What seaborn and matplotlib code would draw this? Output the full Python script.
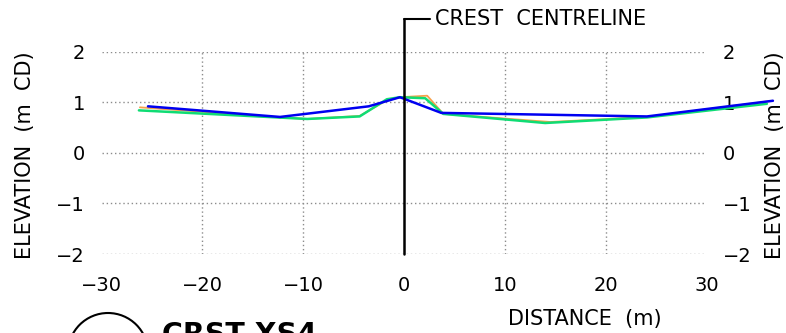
import seaborn as sns
import pandas as pd
import matplotlib
matplotlib.use("Agg")
import matplotlib.pyplot as plt
from matplotlib.patches import Ellipse

# survey profiles across the crest (distance in m, elevation in m CD)
orange_x = [-26.2, -12.3, -9.6, -4.4, -1.7, -0.4, 2.3, 3.9, 14.5, 24.1, 36.6]
orange_y = [0.90, 0.70, 0.67, 0.73, 1.04, 1.10, 1.13, 0.77, 0.61, 0.71, 1.03]
green_x = [-26.3, -9.6, -4.4, -1.7, -0.4, 2.1, 3.9, 14.0, 24.1, 36.0]
green_y = [0.84, 0.67, 0.72, 1.06, 1.10, 1.08, 0.77, 0.59, 0.70, 0.97]
blue_x = [-25.4, -12.3, -3.5, -0.4, 3.7, 24.1, 36.6]
blue_y = [0.92, 0.71, 0.92, 1.10, 0.79, 0.72, 1.03]

x_ticks = [-30, -20, -10, 0, 10, 20, 30]
y_ticks = [-2, -1, 0, 1, 2]

frames = []
for name, xs, ys in [("A", orange_x, orange_y), ("B", green_x, green_y), ("C", blue_x, blue_y)]:
    frames.append(pd.DataFrame({"dist": xs, "elev": ys, "survey": name}))
df = pd.concat(frames, ignore_index=True)

sns.set_style("white")
plt.rcParams["font.family"] = ["DejaVu Sans"]
plt.rcParams["text.color"] = "black"
plt.rcParams["xtick.color"] = "black"
plt.rcParams["ytick.color"] = "black"

W, H = 786, 333
fig = plt.figure(figsize=(W / 100, H / 100), dpi=100)
# plot region in pixels: x -30..30 -> 101.6..706.4, y 2..-2 -> 51.7..254
ax = fig.add_axes([101.6 / W, 1 - 254 / H, (706.4 - 101.6) / W, (254 - 51.7) / H])

# dotted grid like the CAD sheet
ax.hlines(y_ticks, x_ticks[0], x_ticks[-1], colors="#8c8c8c", linestyles=(0, (1, 2)), lw=1, zorder=1)
ax.vlines([t for t in x_ticks if t not in (0, -30, 30)], -2, 2, colors="#8c8c8c",
          linestyles=(0, (1, 2)), lw=1, zorder=1)

sns.lineplot(data=df, x="dist", y="elev", hue="survey", sort=False, estimator=None,
             palette={"A": "#f7a04a", "B": "#0fdc74", "C": "#0000f0"}, legend=False, ax=ax, zorder=3)
for ln, w in zip(ax.lines, [1.3, 1.8, 1.8]):
    ln.set_linewidth(w)
    ln.set_clip_on(False)

# crest centreline with leader
top = (153 - 19) / 50.6
ax.plot([0, 0], [-2, top], color="black", lw=1.8, clip_on=False, zorder=4)
ax.plot([0, 2.6], [top, top], color="black", lw=1.5, clip_on=False, zorder=4)
ax.text(3.1, top, "CREST  CENTRELINE", fontsize=15, va="center", ha="left", clip_on=False)

ax.set_xlim(-30, 30)
ax.set_ylim(-2, 2)
ax.set_xticks(x_ticks)
ax.set_yticks(y_ticks)
for s in ax.spines.values():
    s.set_visible(False)
ax.tick_params(axis="x", length=0, pad=16, labelsize=14, labelcolor="black")
ax.tick_params(axis="y", length=0, pad=12, labelsize=14, labelleft=True, labelright=True,
               labelcolor="black")
ax.set_xlabel("")
ax.set_ylabel("")

fig.text(25 / W, 1 - 155 / H, "ELEVATION  (m  CD)", rotation=90, ha="center", va="center", fontsize=15)
fig.text(775 / W, 1 - 155 / H, "ELEVATION  (m  CD)", rotation=90, ha="center", va="center", fontsize=15)
fig.text(585 / W, 1 - 319 / H, "DISTANCE  (m)", ha="center", va="center", fontsize=15)

# section title bubble (cut at sheet edge, as on the drawing)
fig.add_artist(Ellipse((108 / W, 1 - 353 / H), 80 / W, 80 / H, transform=fig.transFigure,
                       fill=False, lw=1.5, color="black"))
fig.text(162 / W, 1 - 343 / H, "CRST XS4", ha="left", va="baseline", fontsize=20.5, fontweight="bold")

fig.savefig("out.png", dpi=100)
